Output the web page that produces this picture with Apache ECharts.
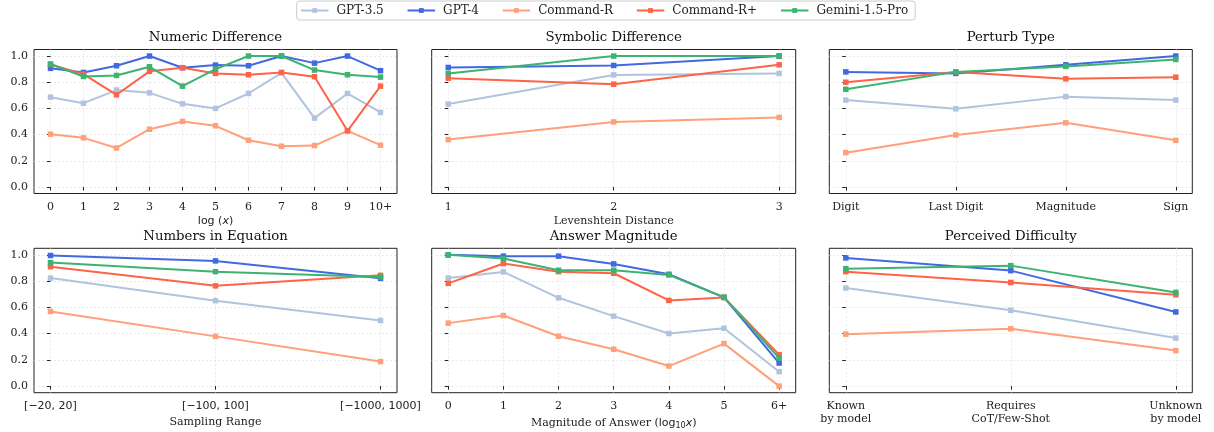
<!DOCTYPE html>
<html><head><meta charset="utf-8">
<script src="https://cdn.jsdelivr.net/npm/echarts@6/dist/echarts.min.js"></script>
<style>html,body{margin:0;padding:0;background:#fff}#c{width:1214px;height:432px}</style>
</head><body><div id="c"></div>
<script>
const models = ['GPT-3.5','GPT-4','Command-R','Command-R+','Gemini-1.5-Pro'];
const colors = ['#b0c4de','#4169e1','#ffa07a','#ff6347','#3cb371'];

const numericCats = ['0','1','2','3','4','5','6','7','8','9','10+'];
const numericGPT35 = [0.686,0.640,0.740,0.719,0.635,0.600,0.714,0.872,0.526,0.714,0.569];
const numericGPT4  = [0.906,0.875,0.926,1.000,0.911,0.931,0.926,1.000,0.946,1.000,0.888];
const numericCmdR  = [0.403,0.375,0.298,0.441,0.500,0.467,0.357,0.311,0.316,0.429,0.319];
const numericCmdRP = [0.936,0.862,0.704,0.883,0.911,0.867,0.857,0.875,0.842,0.429,0.770];
const numericGem   = [0.939,0.844,0.852,0.918,0.770,0.900,1.000,1.000,0.893,0.857,0.839];

const symbolicCats = ['1','2','3'];
const symbolicGPT35 = [0.633,0.856,0.867];
const symbolicGPT4  = [0.913,0.928,1.000];
const symbolicCmdR  = [0.362,0.497,0.531];
const symbolicCmdRP = [0.831,0.785,0.933];
const symbolicGem   = [0.867,1.000,1.000];

const perturbCats = ['Digit','Last Digit','Magnitude','Sign'];
const perturbGPT35 = [0.664,0.597,0.690,0.664];
const perturbGPT4  = [0.879,0.867,0.933,1.000];
const perturbCmdR  = [0.262,0.397,0.490,0.356];
const perturbCmdRP = [0.800,0.879,0.826,0.838];
const perturbGem   = [0.746,0.879,0.921,0.974];

const rangeCats = ['[\u221220, 20]','[\u2212100, 100]','[\u22121000, 1000]'];
const rangeGPT35 = [0.823,0.651,0.500];
const rangeGPT4  = [0.995,0.954,0.821];
const rangeCmdR  = [0.569,0.379,0.187];
const rangeCmdRP = [0.910,0.764,0.844];
const rangeGem   = [0.941,0.872,0.831];

const magCats = ['0','1','2','3','4','5','6+'];
const magGPT35 = [0.824,0.870,0.673,0.533,0.401,0.441,0.110];
const magGPT4  = [1.000,0.990,0.990,0.931,0.852,0.676,0.176];
const magCmdR  = [0.480,0.538,0.380,0.281,0.153,0.324,0.000];
const magCmdRP = [0.783,0.934,0.872,0.860,0.653,0.676,0.240];
const magGem   = [1.000,0.972,0.883,0.883,0.847,0.676,0.214];

const diffCats = ['Known\nby model','Requires\nCoT/Few-Shot','Unknown\nby model'];
const diffGPT35 = [0.747,0.578,0.366];
const diffGPT4  = [0.977,0.880,0.565];
const diffCmdR  = [0.396,0.437,0.271];
const diffCmdRP = [0.872,0.790,0.696];
const diffGem   = [0.895,0.918,0.714];

const yTicks = [0,0.2,0.4,0.6,0.8,1.0];

const panels = [
  {title:'Numeric Difference', cats:numericCats, series:[numericGPT35,numericGPT4,numericCmdR,numericCmdRP,numericGem], xname:'{m|log}{p| (}{i|x}{p|)}', ylabels:true},
  {title:'Symbolic Difference', cats:symbolicCats, series:[symbolicGPT35,symbolicGPT4,symbolicCmdR,symbolicCmdRP,symbolicGem], xname:'Levenshtein Distance', ylabels:false},
  {title:'Perturb Type', cats:perturbCats, series:[perturbGPT35,perturbGPT4,perturbCmdR,perturbCmdRP,perturbGem], xname:'', ylabels:false},
  {title:'Numbers in Equation', cats:rangeCats, series:[rangeGPT35,rangeGPT4,rangeCmdR,rangeCmdRP,rangeGem], xname:'Sampling Range', ylabels:true, sansX:true},
  {title:'Answer Magnitude', cats:magCats, series:[magGPT35,magGPT4,magCmdR,magCmdRP,magGem], xname:'Magnitude of Answer ({m|log}{sub|10}{i|x})', ylabels:false},
  {title:'Perceived Difficulty', cats:diffCats, series:[diffGPT35,diffGPT4,diffCmdR,diffCmdRP,diffGem], xname:'', ylabels:false}
];

const colLeft = [34, 431.7, 829.3];
const colWidth = [363, 364, 363];
const rowTop = [49.5, 248.3];
const rowHeight = [144, 144.4];
const nameGaps = [22, 24];
const FONT = 'DejaVu Serif';

const option = {
  animation:false,
  backgroundColor:'#fff',
  textStyle:{fontFamily:FONT},
  legend:{
    data:models, left:296.7, top:1, orient:'horizontal',
    itemWidth:27.5, itemHeight:6, itemGap:22.8,
    padding:[3.5,7,3.5,3.3],
    borderColor:'#cccccc', borderWidth:1, borderRadius:3,
    textStyle:{fontFamily:FONT, fontSize:12, color:'#222', padding:[0,0,0,3]}
  },
  title:[], grid:[], xAxis:[], yAxis:[], series:[]
};

panels.forEach((p,i)=>{
  const r = Math.floor(i/3), c = i%3;
  const n = p.cats.length;
  const left = colLeft[c], top = rowTop[r], w = colWidth[c], h = rowHeight[r];
  option.title.push({
    text:p.title, left:left+w/2, top:top-18.5, textAlign:'center', padding:0,
    textStyle:{fontFamily:FONT, fontSize:13.3, fontWeight:'normal', color:'#111'}
  });
  option.grid.push({left:left, top:top, width:w, height:h, show:true, borderColor:'#222', borderWidth:1, backgroundColor:'transparent'});
  const xv = p.cats.map((_,k)=>k);
  option.xAxis.push({
    type:'value', gridIndex:i, min:-0.05*(n-1), max:(n-1)*1.05,
    axisLine:{show:false},
    axisTick:{show:true, length:3.5, lineStyle:{color:'#222'}, customValues:xv},
    axisLabel:{show:true, customValues:xv, margin:6.5, color:'#222', fontSize:11,
      fontFamily: p.sansX ? 'DejaVu Sans' : FONT, lineHeight:13.5,
      formatter:(v)=>p.cats[Math.round(v)] ?? ''},
    splitLine:{show:true, lineStyle:{color:'#e4e4e4', type:[2,2], width:0.8}},
    name:p.xname, nameLocation:'middle', nameGap:nameGaps[r],
    nameTextStyle:{fontFamily:FONT, fontSize:11, color:'#222',
      rich:{
        m:{fontFamily:'DejaVu Sans', fontSize:11, color:'#222'},
        p:{fontFamily:'DejaVu Sans', fontSize:11, color:'#222'},
        i:{fontFamily:'DejaVu Sans', fontStyle:'italic', fontSize:11, color:'#222'},
        sub:{fontFamily:'DejaVu Sans', fontSize:8, color:'#222', padding:[5,0,0,0]}
      }}
  });
  option.yAxis.push({
    type:'value', gridIndex:i, min:-0.05, max:1.05,
    axisLine:{show:false},
    axisTick:{show:true, length:3.5, lineStyle:{color:'#222'}, customValues:yTicks},
    axisLabel:{show:p.ylabels, customValues:yTicks, margin:6, color:'#222', fontSize:11, fontFamily:FONT,
      formatter:(v)=>v.toFixed(1)},
    splitLine:{show:true, lineStyle:{color:'#e4e4e4', type:[2,2], width:0.8}}
  });
  p.series.forEach((vals,s)=>{
    option.series.push({
      name:models[s], type:'line', xAxisIndex:i, yAxisIndex:i,
      data:vals.map((v,k)=>[k,v]),
      symbol:'rect', symbolSize:5.5, showSymbol:true,
      lineStyle:{color:colors[s], width:2},
      itemStyle:{color:colors[s]},
      emphasis:{disabled:true}, z:2+s
    });
  });
});

const chart = echarts.init(document.getElementById('c'), null, {renderer:'canvas'});
chart.setOption(option);
</script>
</body></html>
